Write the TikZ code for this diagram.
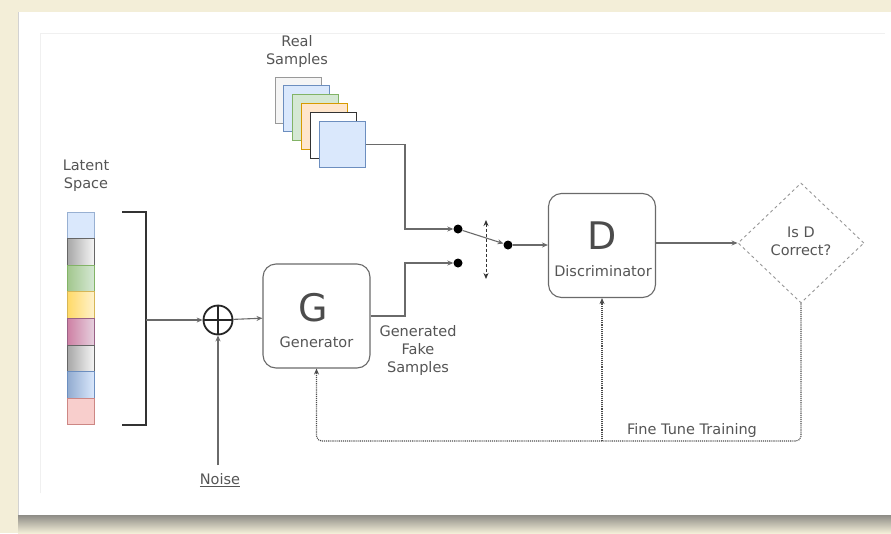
\documentclass[tikz,border=0pt]{standalone}
\usepackage{fontspec}
\setmainfont{DejaVu Sans}
\usetikzlibrary{arrows.meta,positioning,calc,shapes.geometric}
\definecolor{cream}{HTML}{F3EED8}
\definecolor{txtgray}{HTML}{555555}
\definecolor{linegray}{HTML}{6A6A6A}
\definecolor{bluefill}{HTML}{DAE8FC}
\definecolor{blueline}{HTML}{6C8EBF}
\definecolor{greenfill}{HTML}{D5E8D4}
\definecolor{greenline}{HTML}{82B366}
\definecolor{orangefill}{HTML}{FFE6CC}
\definecolor{orangeline}{HTML}{D79B00}
\definecolor{grayfill}{HTML}{F5F5F5}
\definecolor{grayline}{HTML}{999999}
\definecolor{pinkfill}{HTML}{F8CECC}
\definecolor{pinkline}{HTML}{B85450}
\definecolor{plumdark}{HTML}{CD7FA3}
\definecolor{plumlight}{HTML}{E6D0DE}
\definecolor{plumline}{HTML}{996185}
\definecolor{yellowdark}{HTML}{FFD966}
\definecolor{yellowlight}{HTML}{FFF2CC}
\definecolor{yellowline}{HTML}{D6B656}
\tikzset{
  lab/.style={font=\fontsize{14.5}{18}\selectfont,text=txtgray,align=center,inner sep=0pt},
  biglet/.style={font=\fontsize{38}{40}\selectfont,text=txtgray!90!black,inner sep=0pt},
  blk/.style={draw=linegray,line width=1.1pt,rounded corners=13pt,fill=white,minimum width=107pt,minimum height=104pt},
  decide/.style={diamond,draw=linegray!70,dashed,line width=0.9pt,minimum width=126pt,minimum height=120pt,inner sep=0pt},
  pin/.style={circle,fill=black,inner sep=0pt,minimum size=9pt},
  sumv/.style={circle,draw=black!85,line width=1.8pt,minimum size=29pt,inner sep=0pt},
  cell/.style={draw=#1,line width=0.8pt,minimum width=27pt,minimum height=26.6pt,inner sep=0pt},
  card/.style={draw=#1,line width=0.9pt,minimum width=46pt,minimum height=46pt,inner sep=0pt},
  conn/.style={draw=linegray,line width=1.1pt,-{Stealth[length=6pt,width=5pt]}},
  fb/.style={draw=black!70,line width=1.1pt,densely dotted,rounded corners=5pt,-{Stealth[length=6pt,width=5pt]}},
  flip/.style={draw=black!80,line width=1pt,densely dashed,{Stealth[length=6pt,width=5pt]}-{Stealth[length=6pt,width=5pt]}},
}
\begin{document}
\begin{tikzpicture}[x=1pt,y=-1pt]
  \useasboundingbox (0,0) rectangle (891,533);
  % page and card
  \fill[cream] (0,0) rectangle (891,533);
  \shade[top color=black!60,bottom color=cream] (18,508) rectangle (891,533);
  \fill[white] (18,12) rectangle (891,515);
  \draw[gray!35,line width=1pt] (18,12) -- (18,515);
  \draw[gray!12,line width=0.8pt] (40,493) -- (40,33) -- (885,33);

  % latent space
  \node[lab] (latentlab) at (86,176) {Latent\\Space};
  \foreach \i/\lc/\rc/\bc in {0/bluefill/bluefill/blueline!70,
                              1/black!35/grayfill/black!60,
                              2/greenline!75/greenfill/greenline,
                              3/yellowdark/yellowlight/yellowline,
                              4/plumdark/plumlight/plumline,
                              5/black!35/grayfill/black!60,
                              6/blueline!75/bluefill/blueline,
                              7/pinkfill/pinkfill/pinkline!70} {
    \node[cell=\bc,left color=\lc,right color=\rc] (z\i) at (80.5,225.3+26.6*\i) {};
  }
  \coordinate (bkt) at (146,320);
  \draw[black!80,line width=2pt] (122,212) -- (146,212) -- (146,425) -- (122,425);

  % noise and sum
  \node[sumv] (sum) at (218,320) {};
  \draw[black!85,line width=1.8pt] (sum.north) -- (sum.south) (sum.west) -- (sum.east);
  \node[lab] (noise) at (220,480) {\underline{Noise}};
  \coordinate (nz) at (218,465);
  \draw[conn] (bkt) -- (sum);
  \draw[conn] (nz) -- (sum.south);

  % generator
  \node[blk] (gen) at (316.5,316) {};
  \node[biglet] (glet) at (313,308) {G};
  \node[lab] (gtxt) at (316.5,342) {Generator};
  \draw[conn] (sum) -- (gen);
  \node[lab] (fake) at (418,350) {Generated\\Fake\\Samples};

  % real samples
  \node[lab] (reallab) at (297,51) {Real\\Samples};
  \foreach \j/\f/\b in {0/grayfill/grayline,1/bluefill/blueline,2/greenfill/greenline,
                        3/orangefill/orangeline,4/white/black!80,5/bluefill/blueline} {
    \node[card=\b,fill=\f] (r\j) at (298+8.9*\j,100+8.9*\j) {};
  }

  % switch
  \coordinate (split) at (405,0);
  \node[pin] (s1) at (458,229) {};
  \node[pin] (s2) at (458,263) {};
  \node[pin] (s3) at (508,245) {};
  \draw[conn] (r5.east) -- (r5.east -| split) |- (s1);
  \draw[conn] (gen.east) -- (gen.east -| split) |- (s2);
  \draw[conn] (s1) -- (s3);
  \coordinate (up) at (486,220);
  \coordinate (dn) at (486,279);
  \draw[flip] (up) -- (dn);

  % discriminator
  \node[blk] (dis) at (602,245.5) {};
  \node[biglet] (dlet) at (602,236) {D};
  \node[lab] (dtxt) at (603,271) {Discriminator};
  \draw[conn] (s3) -- (s3 -| dis.west);

  % decision
  \node[decide] (dia) at (801,243) {};
  \node[lab] (qtxt) at (801,241) {Is D\\Correct?};
  \draw[conn] (dia.west -| dis.east) -- (dia.west);

  % fine tuning loop
  \coordinate (fbl) at (0,441);
  \draw[fb] (dia.south) -- (dia.south |- fbl) -- (gen.south |- fbl) -- (gen.south);
  \draw[fb] (dis.south |- fbl) -- (dis.south);
  \node[lab] (tune) at (692,430) {Fine Tune Training};
\end{tikzpicture}
\end{document}
